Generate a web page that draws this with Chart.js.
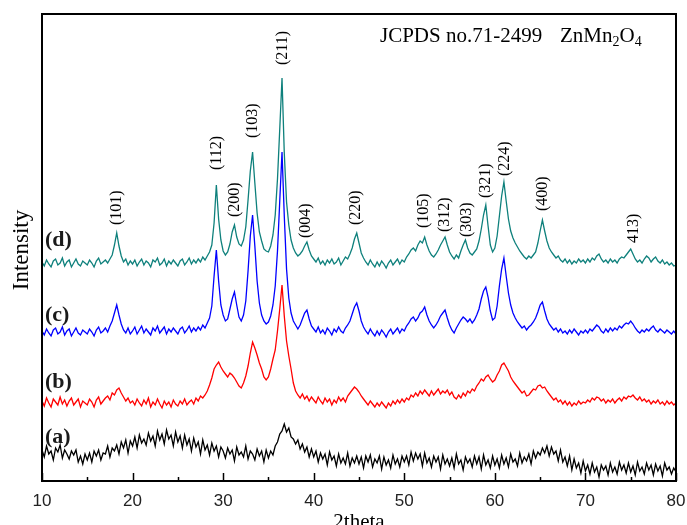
<!DOCTYPE html>
<html>
<head>
<meta charset="utf-8">
<script src="https://cdn.jsdelivr.net/npm/chart.js@4.4.1/dist/chart.umd.min.js"></script>
<style>
html,body{margin:0;padding:0;background:#fff;}
#wrap{width:687px;height:525px;position:relative;}
</style>
</head>
<body>
<div id="wrap"><canvas id="c" width="687" height="525"></canvas></div>
<script>
// 2theta sampling grid (degrees)
const thetaStart = 10;
const thetaStep = 0.25;

// (d) teal
const intensityD = [
219,215,221,217,214,220,222,216,218,223,215,219,221,214,218,222,217,215,220,218,
216,221,218,214,220,223,217,219,221,218,222,226,236,248,235,225,219,222,216,220,
217,221,215,219,222,216,220,218,214,221,219,223,216,218,222,215,220,217,221,218,
215,220,222,216,219,223,217,221,218,222,219,224,221,225,229,236,258,296,262,241,
230,226,229,237,249,256,244,237,235,241,254,281,310,329,298,268,249,240,232,230,
229,235,246,266,302,352,403,328,279,256,241,233,228,225,227,230,235,239,231,225,
222,219,223,217,220,216,221,218,222,217,219,223,216,220,224,222,227,233,242,248,
238,228,223,219,216,221,217,214,219,215,220,217,213,218,221,216,219,222,217,221,
219,224,227,231,233,230,236,240,238,244,236,230,226,224,227,231,236,240,244,236,
229,225,222,226,223,230,236,241,233,228,226,229,232,240,252,266,276,255,236,229,
233,245,265,285,299,280,262,250,243,238,234,230,227,224,222,225,223,226,229,238,
250,261,250,240,233,229,226,223,225,221,219,222,218,221,217,220,218,222,219,221,
218,222,219,223,221,225,227,222,219,221,218,222,219,221,218,222,224,223,226,229,
232,227,222,219,221,218,222,225,223,219,222,224,220,218,221,217,219,216,218,215,
216
];

// (c) blue
const intensityC = [
150,146,152,148,145,151,153,147,149,154,146,150,152,145,149,153,148,146,151,149,
147,152,149,145,151,154,148,150,153,149,155,160,168,176,166,157,151,148,153,147,
150,154,147,151,155,148,152,149,146,153,150,155,148,151,154,147,152,149,153,150,
147,152,154,148,151,155,149,153,150,154,151,156,153,158,163,175,205,231,200,176,
166,160,162,172,182,189,176,164,160,166,180,210,245,266,235,200,178,166,160,157,
159,165,176,195,230,280,329,265,212,183,168,160,156,152,156,162,168,171,162,155,
152,149,154,148,151,147,153,150,146,152,149,154,150,148,153,156,160,167,174,178,
170,160,154,150,147,152,148,145,150,146,151,148,144,149,152,147,150,153,148,152,
150,155,158,162,164,160,163,168,170,174,166,160,156,153,156,160,165,168,171,163,
156,151,148,153,157,161,164,162,159,162,158,161,166,172,182,190,194,184,170,161,
163,175,195,212,223,205,188,176,168,163,159,156,153,155,151,154,156,159,163,169,
176,179,170,162,157,154,151,153,149,152,148,150,147,151,148,152,149,146,150,148,
151,148,152,150,153,156,154,150,148,152,149,153,150,153,151,155,153,156,158,157,
160,157,153,150,148,151,149,152,150,153,155,151,149,152,150,148,151,149,147,150,
147
];

// (b) red
const intensityB = [
80,75,83,78,74,82,79,76,84,77,81,75,80,83,76,79,82,74,80,78,
76,82,79,74,81,84,77,80,83,85,81,88,86,91,93,88,84,80,83,78,
80,76,82,78,75,81,77,83,74,79,76,82,77,73,80,76,79,74,81,77,
75,80,77,82,76,79,81,77,83,80,85,83,86,90,96,103,112,116,119,114,
110,107,104,108,106,103,99,95,93,98,105,115,128,139,133,126,118,112,104,101,
104,112,122,131,150,172,196,165,140,125,112,98,90,86,83,87,82,85,80,84,
81,78,84,80,77,83,79,82,76,81,78,84,80,83,79,85,88,91,94,92,
89,85,82,79,76,80,77,74,78,75,79,76,73,78,75,80,77,81,78,82,
79,83,81,86,84,88,85,90,87,91,88,85,90,86,89,92,87,90,88,91,
86,89,84,82,86,83,88,85,90,88,92,90,95,98,102,100,104,106,102,99,
101,106,110,116,118,114,110,104,100,97,94,91,88,90,85,86,89,92,91,95,
96,93,94,90,87,84,81,83,79,81,77,80,76,79,75,78,76,80,77,79,
78,81,79,83,81,84,83,80,82,78,81,79,82,78,81,83,80,84,82,85,
84,86,83,81,84,80,82,79,81,77,80,78,81,77,79,76,80,77,79,76,
78
];

// (a) black
const intensityA = [
31,24,35,27,30,21,33,29,36,23,31,27,22,30,26,31,19,25,17,27,
21,28,19,30,25,31,21,28,27,35,24,33,30,36,27,39,33,41,28,40,
35,44,33,46,38,42,36,48,40,45,35,50,41,47,37,51,42,46,35,49,
39,45,33,46,36,42,30,43,34,39,27,41,31,36,26,38,30,35,24,34,
30,23,33,27,31,20,34,26,29,24,35,22,30,27,21,32,25,30,19,31,
23,30,26,35,39,47,50,57,49,53,44,42,37,41,32,37,29,34,24,32,
24,30,19,28,22,27,16,29,21,25,15,27,18,23,17,28,15,23,18,25,
17,24,13,25,19,26,14,22,18,25,12,24,16,21,13,26,17,22,14,25,
19,25,16,29,20,28,22,27,15,28,18,23,14,25,19,24,12,26,17,22,
15,23,13,27,17,21,11,24,18,22,14,25,17,24,12,26,16,21,13,25,
16,22,13,26,17,23,14,27,19,22,15,28,18,24,20,27,17,30,23,29,
26,33,28,35,25,34,27,30,20,31,19,24,15,25,11,22,13,18,8,20,
10,16,7,18,9,14,4,16,11,15,6,18,9,14,7,19,11,16,8,18,
9,15,6,19,10,14,7,18,11,16,6,17,10,15,5,18,11,14,7,13,
9
];

// x-axis tick labels
const xTicks = [10, 20, 30, 40, 50, 60, 70, 80];

// peak (hkl) annotations: text, 2theta, intensity at label start
const peakLabels = ["(101)","(112)","(200)","(103)","(211)","(004)","(220)","(105)","(312)","(303)","(321)","(224)","(400)","413)"];
const peakTheta  = [18.3, 29.35, 31.3, 33.3, 36.6, 39.1, 44.6, 52.2, 54.5, 56.9, 59.05, 61.1, 65.25, 75.3];
const peakLabelY = [256, 311, 264, 343, 416, 243, 256, 253, 249, 244, 283, 305, 270, 238];

// sample labels
const sampleLabels = ["(d)", "(c)", "(b)", "(a)"];
const sampleLabelY = [241, 166, 99, 44];

const colors = ["#0e807c", "#0000ff", "#ff0000", "#000000"];

function toPoints(arr){ return arr.map((v,i)=>({x: thetaStart + i*thetaStep, y: v})); }

const serif = '"Liberation Serif","Times New Roman",serif';

const overlay = {
  id: 'overlay',
  afterDatasetsDraw(chart){
    const {ctx, chartArea, scales} = chart;
    const {left, top, right, bottom} = chartArea;
    const xs = scales.x, ys = scales.y;
    ctx.save();
    // frame
    ctx.strokeStyle = '#000';
    ctx.lineWidth = 2;
    ctx.strokeRect(left, top, right-left, bottom-top);
    // inward ticks
    ctx.lineWidth = 1.5;
    for (let v = 10; v <= 80; v += 5){
      const px = Math.round(xs.getPixelForValue(v)) + 0.5;
      const len = (v % 10 === 0) ? 8 : 4;
      ctx.beginPath(); ctx.moveTo(px, bottom); ctx.lineTo(px, bottom-len); ctx.stroke();
    }
    // peak labels
    ctx.fillStyle = '#000';
    ctx.font = '16px ' + serif;
    ctx.textAlign = 'left';
    ctx.textBaseline = 'middle';
    peakLabels.forEach((t,i)=>{
      ctx.save();
      ctx.translate(xs.getPixelForValue(peakTheta[i]), ys.getPixelForValue(peakLabelY[i]));
      ctx.rotate(-Math.PI/2);
      ctx.fillText(t, 0, 0);
      ctx.restore();
    });
    // sample labels
    ctx.font = 'bold 22px ' + serif;
    ctx.fillStyle = '#1a1a1a';
    sampleLabels.forEach((t,i)=>{
      ctx.fillText(t, left + 3, ys.getPixelForValue(sampleLabelY[i]));
    });
    // JCPDS text
    ctx.fillStyle = '#000';
    ctx.textBaseline = 'alphabetic';
    ctx.font = '21px ' + serif;
    ctx.fillText('JCPDS no.71-2499', 380, 42);
    let xx = 560;
    const parts = [['ZnMn',0],['2',1],['O',0],['4',1]];
    parts.forEach(([s,sub])=>{
      ctx.font = (sub ? '14px ' : '21px ') + serif;
      ctx.fillText(s, xx, sub ? 46 : 42);
      xx += ctx.measureText(s).width;
    });
    // axis titles
    ctx.font = '21px ' + serif;
    ctx.textAlign = 'center';
    ctx.textBaseline = 'alphabetic';
    ctx.fillText('2theta', (left+right)/2, 528);
    ctx.save();
    ctx.translate(22, 250);
    ctx.rotate(-Math.PI/2);
    ctx.textBaseline = 'middle';
    ctx.font = '23px ' + serif;
    ctx.fillText('Intensity', 0, 0);
    ctx.restore();
    ctx.restore();
  }
};

new Chart(document.getElementById('c'), {
  type: 'line',
  data: {
    datasets: [intensityD, intensityC, intensityB, intensityA].map((arr,i)=>({
      data: toPoints(arr),
      borderColor: colors[i],
      borderWidth: 1.3,
      pointRadius: 0,
      tension: 0,
      fill: false
    }))
  },
  options: {
    responsive: false,
    animation: false,
    events: [],
    layout: { padding: { top: 14, right: 11, left: 0, bottom: 0 } },
    plugins: { legend: { display: false }, tooltip: { enabled: false } },
    scales: {
      x: {
        type: 'linear', min: 10, max: 80,
        afterFit(s){ s.height = 44; s.paddingRight = 0; s.paddingLeft = 0; },
        afterBuildTicks(s){ s.ticks = xTicks.map(v=>({value:v})); },
        grid: { display: false, drawTicks: false },
        border: { display: false },
        ticks: { padding: 10, color: '#222', font: { family: '"Liberation Sans",Arial,sans-serif', size: 17 } }
      },
      y: {
        min: 0, max: 467,
        afterFit(s){ s.width = 42; },
        grid: { display: false, drawTicks: false },
        border: { display: false },
        ticks: { display: false }
      }
    }
  },
  plugins: [overlay]
});
</script>
</body>
</html>
